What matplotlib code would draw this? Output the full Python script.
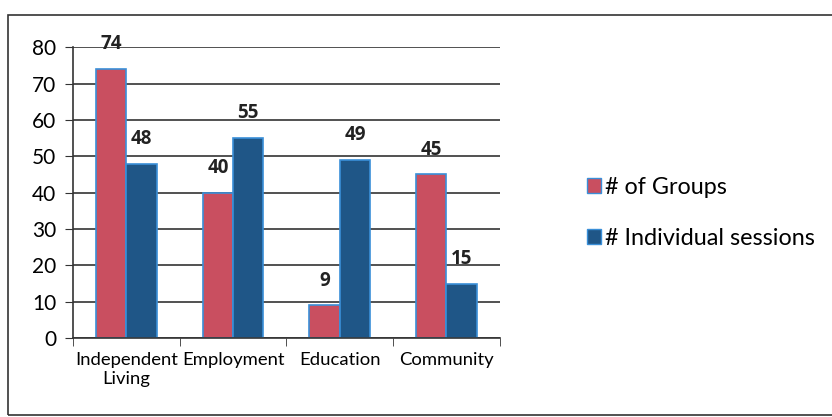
import matplotlib
matplotlib.use("Agg")
import matplotlib.pyplot as plt
from matplotlib.patches import Rectangle, Patch
import numpy as np

categories = ["Independent\nLiving", "Employment", "Education", "Community"]
groups = [74, 40, 9, 45]
individual = [48, 55, 49, 15]
series_names = ["# of Groups", "# Individual sessions"]

plt.rcParams['font.family'] = ['Lato', 'DejaVu Sans']

fig = plt.figure(figsize=(8.32, 4.17), dpi=100)
ax = fig.add_axes([0.0877, 0.189, 0.513, 0.698])

pink = "#C94F60"
blue = "#1F5687"
edge = "#3A8FD8"
x = np.arange(len(categories))
w = 0.285
ax.bar(x - w/2, groups, w, color=pink, edgecolor=edge, linewidth=1.2, label=series_names[0])
ax.bar(x + w/2, individual, w, color=blue, edgecolor=edge, linewidth=1.2, label=series_names[1])

lblfont = dict(ha="center", va="center", fontsize=13.5, fontweight="bold",
               color="#222222", family=["Open Sans", "DejaVu Sans"])
for xi, v in zip(x - w/2, groups):
    ax.text(xi, v + 6.8, str(v), **lblfont)
for xi, v in zip(x + w/2, individual):
    ax.text(xi, v + 6.8, str(v), **lblfont)

ax.set_xlim(-0.5, 3.5)
ax.set_ylim(0, 80)
ax.set_yticks(range(0, 81, 10))
ax.tick_params(axis="y", labelsize=15, length=6, direction="out", color="#333333", pad=6)
ax.yaxis.grid(True, color="#222222", linewidth=1.1)
ax.set_axisbelow(True)
ax.set_xticks(x)
ax.set_xticklabels(categories, fontsize=13.3)
ax.tick_params(axis="x", length=0, pad=10)
ax.set_xticks(np.arange(-0.5, 4.0, 1.0), minor=True)
ax.tick_params(axis="x", which="minor", length=6, direction="out", color="#333333")
for s in ["top", "right"]:
    ax.spines[s].set_visible(False)
ax.spines["left"].set_color("#333333")
ax.spines["bottom"].set_color("#333333")
ax.spines["left"].set_linewidth(1.2)
ax.spines["bottom"].set_linewidth(1.2)

handles = [Patch(facecolor=pink, edgecolor=edge), Patch(facecolor=blue, edgecolor=edge)]
fig.legend(handles, series_names, loc="center left", bbox_to_anchor=(0.68, 0.49),
           frameon=False, fontsize=16.8, handlelength=0.6, handleheight=0.6,
           handletextpad=0.2, labelspacing=1.3)

fig.patches.append(Rectangle((0.0096, 0.005), 1.2, 0.96, transform=fig.transFigure,
                             fill=False, edgecolor="#333333", linewidth=1.2))

fig.savefig("out.png", dpi=100)
